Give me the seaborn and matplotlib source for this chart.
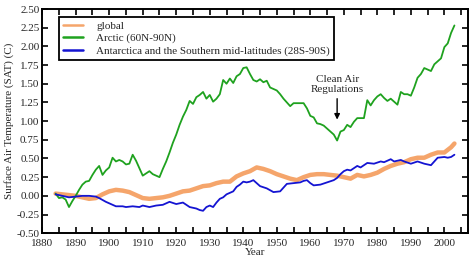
import pandas as pd
import seaborn as sns
import matplotlib.pyplot as plt

# Arctic (60N-90N)
arctic_years = [1884, 1885, 1886, 1887, 1888, 1889, 1890, 1891, 1892, 1893, 1894, 1895, 1896, 1897, 1898, 1899,
                1900, 1901, 1902, 1903, 1904, 1905, 1906, 1907, 1908, 1909, 1910, 1911, 1912, 1913, 1914, 1915,
                1916, 1917, 1918, 1919, 1920, 1921, 1922, 1923, 1924, 1925, 1926, 1927, 1928, 1929, 1930, 1931,
                1932, 1933, 1934, 1935, 1936, 1937, 1938, 1939, 1940, 1941, 1942, 1943, 1944, 1945, 1946, 1947,
                1948, 1949, 1950, 1951, 1952, 1953, 1954, 1955, 1956, 1957, 1958, 1959, 1960, 1961, 1962, 1963,
                1964, 1965, 1966, 1967, 1968, 1969, 1970, 1971, 1972, 1973, 1974, 1975, 1976, 1977, 1978, 1979,
                1980, 1981, 1982, 1983, 1984, 1985, 1986, 1987, 1988, 1989, 1990, 1991, 1992, 1993, 1994, 1995,
                1996, 1997, 1998, 1999, 2000, 2001, 2002, 2003]
arctic_vals = [0.03, -0.03, -0.02, -0.05, -0.15, -0.07, 0.00, 0.08, 0.15, 0.19, 0.20, 0.28, 0.35, 0.40, 0.28, 0.34,
               0.38, 0.51, 0.46, 0.48, 0.46, 0.42, 0.43, 0.55, 0.47, 0.37, 0.27, 0.30, 0.33, 0.29, 0.27, 0.25,
               0.36, 0.46, 0.58, 0.71, 0.82, 0.95, 1.06, 1.15, 1.27, 1.23, 1.32, 1.35, 1.39, 1.30, 1.35, 1.26,
               1.30, 1.36, 1.55, 1.50, 1.57, 1.51, 1.60, 1.63, 1.71, 1.72, 1.63, 1.55, 1.53, 1.56, 1.52, 1.54,
               1.45, 1.43, 1.41, 1.36, 1.30, 1.25, 1.20, 1.24, 1.24, 1.24, 1.24, 1.17, 1.07, 1.05, 0.97, 0.96,
               0.94, 0.90, 0.86, 0.82, 0.74, 0.86, 0.88, 0.95, 0.92, 0.99, 1.04, 1.04, 1.04, 1.28, 1.21, 1.28,
               1.33, 1.36, 1.31, 1.27, 1.30, 1.26, 1.22, 1.39, 1.36, 1.36, 1.34, 1.45, 1.58, 1.63, 1.71, 1.69,
               1.67, 1.76, 1.80, 1.84, 1.99, 2.04, 2.18, 2.28]

# global
global_years = [1884, 1886, 1888, 1890, 1892, 1894, 1896, 1898, 1900, 1902, 1904, 1906, 1908, 1910, 1912, 1914,
                1916, 1918, 1920, 1922, 1924, 1926, 1928, 1930, 1932, 1934, 1936, 1938, 1940, 1942, 1944, 1946,
                1948, 1950, 1952, 1954, 1956, 1958, 1960, 1962, 1964, 1966, 1968, 1970, 1972, 1974, 1976, 1978,
                1980, 1982, 1984, 1986, 1988, 1990, 1992, 1994, 1996, 1998, 2000, 2002, 2003]
global_vals = [0.03, 0.02, 0.01, 0.00, -0.02, -0.04, -0.03, 0.02, 0.06, 0.08, 0.07, 0.05, 0.01, -0.03, -0.04, -0.03,
               -0.02, 0.00, 0.03, 0.06, 0.07, 0.10, 0.13, 0.14, 0.17, 0.19, 0.19, 0.26, 0.30, 0.33, 0.38, 0.36,
               0.33, 0.29, 0.26, 0.23, 0.21, 0.25, 0.28, 0.29, 0.29, 0.28, 0.27, 0.25, 0.23, 0.28, 0.26, 0.28,
               0.31, 0.36, 0.40, 0.43, 0.45, 0.49, 0.51, 0.51, 0.55, 0.58, 0.58, 0.65, 0.70]

# Antarctica and the Southern mid-latitudes (28S-90S)
south_years = [1884, 1886, 1888, 1890, 1892, 1894, 1896, 1897, 1899, 1901, 1902, 1904, 1905, 1907, 1909, 1910,
               1912, 1914, 1916, 1918, 1920, 1922, 1924, 1926, 1927, 1928, 1929, 1930, 1931, 1932, 1933, 1934,
               1935, 1937, 1938, 1939, 1940, 1941, 1942, 1943, 1944, 1945, 1947, 1949, 1951, 1953, 1955, 1957,
               1958, 1959, 1960, 1961, 1963, 1965, 1967, 1968, 1969, 1970, 1971, 1972, 1973, 1974, 1975, 1976,
               1977, 1979, 1981, 1982, 1984, 1985, 1987, 1988, 1990, 1992, 1994, 1996, 1998, 2000, 2001, 2002, 2003]
south_vals = [0.02, 0.00, -0.02, -0.01, 0.00, 0.00, -0.01, -0.03, -0.08, -0.12, -0.14, -0.14, -0.15, -0.14, -0.15, -0.13,
              -0.15, -0.13, -0.12, -0.08, -0.11, -0.09, -0.15, -0.17, -0.19, -0.20, -0.15, -0.13, -0.15, -0.09, -0.04, -0.02,
              0.02, 0.06, 0.12, 0.15, 0.19, 0.18, 0.19, 0.21, 0.17, 0.13, 0.10, 0.05, 0.06, 0.16, 0.17, 0.18,
              0.20, 0.21, 0.17, 0.14, 0.15, 0.18, 0.21, 0.24, 0.29, 0.33, 0.35, 0.34, 0.37, 0.40, 0.38, 0.41,
              0.44, 0.43, 0.46, 0.45, 0.49, 0.46, 0.48, 0.46, 0.43, 0.46, 0.43, 0.41, 0.51, 0.52, 0.51, 0.52, 0.55]

df_global = pd.DataFrame({"Year": global_years, "SAT": global_vals})
df_arctic = pd.DataFrame({"Year": arctic_years, "SAT": arctic_vals})
df_south = pd.DataFrame({"Year": south_years, "SAT": south_vals})

sns.set_style("ticks")
plt.rcParams['font.family'] = ['Liberation Serif', 'DejaVu Serif']

fig, ax = plt.subplots(figsize=(4.74, 2.65), dpi=100)
fig.subplots_adjust(left=0.089, right=0.987, bottom=0.12, top=0.966)

sns.lineplot(data=df_global, x="Year", y="SAT", ax=ax, color="#f5a56b", linewidth=3.2,
             label="global")
sns.lineplot(data=df_arctic, x="Year", y="SAT", ax=ax, color="#1fa21f", linewidth=1.3,
             label="Arctic (60N-90N)")
sns.lineplot(data=df_south, x="Year", y="SAT", ax=ax, color="#1414d2", linewidth=1.3,
             label="Antarctica and the Southern mid-latitudes (28S-90S)")

ax.set_xlim(1880, 2007)
ax.set_ylim(-0.5, 2.5)
ax.set_xticks(range(1880, 2001, 10))
ax.set_xticks(range(1885, 2006, 10), minor=True)
ax.set_yticks([i * 0.25 for i in range(-2, 11)])
ax.set_yticklabels([f"{i * 0.25:.2f}" for i in range(-2, 11)])
ax.tick_params(axis="both", which="both", direction="in", top=True, right=True,
               length=4, width=1.2, labelsize=8, pad=2, color="black")
ax.tick_params(axis="x", which="major", pad=4)
for sp in ax.spines.values():
    sp.set_linewidth(1.4)
    sp.set_color("black")

ax.set_xlabel("Year", fontsize=8, labelpad=0)
ax.set_ylabel("Surface Air Temperature (SAT) (C)", fontsize=8, labelpad=2)

leg = ax.legend(loc="upper left", bbox_to_anchor=(0.04, 0.965), fontsize=8, frameon=True,
                fancybox=False, framealpha=1, edgecolor="black", handlelength=1.8,
                borderpad=0.35, labelspacing=0.25, handletextpad=1.2, borderaxespad=0)
leg.get_frame().set_linewidth(1.3)
for h in leg.get_lines():
    h.set_linewidth(1.8)

# annotation: text above, arrow pointing down at the Arctic minimum
ax.text(1968, 1.36, "Clean Air\nRegulations", ha="center", va="bottom", fontsize=8)
ax.annotate("", xy=(1968, 1.02), xytext=(1968, 1.30),
            arrowprops=dict(arrowstyle="-|>", color="black", lw=1, mutation_scale=8,
                            shrinkA=0, shrinkB=0))

plt.savefig("out.png", dpi=100)
